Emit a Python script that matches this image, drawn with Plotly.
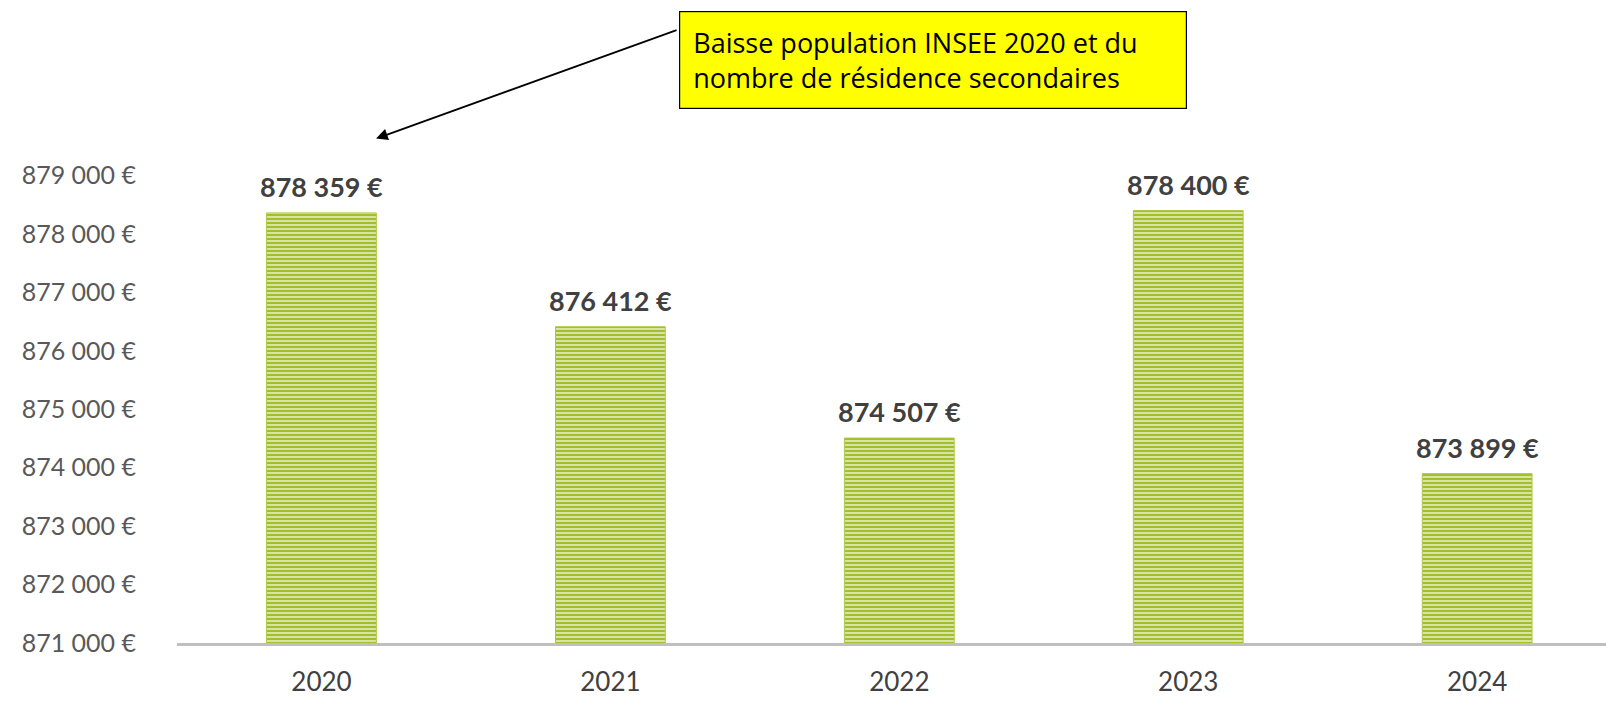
import plotly.graph_objects as go

years = ["2020", "2021", "2022", "2023", "2024"]
values = [878359, 876412, 874507, 878400, 873899]
value_labels = ["878 359 €", "876 412 €", "874 507 €", "878 400 €", "873 899 €"]
y_ticks = [871000, 872000, 873000, 874000, 875000, 876000, 877000, 878000, 879000]
y_tick_labels = ["871 000 €", "872 000 €", "873 000 €", "874 000 €", "875 000 €",
                 "876 000 €", "877 000 €", "878 000 €", "879 000 €"]
note_text = "Baisse population INSEE 2020 et du<br>nombre de résidence secondaires"

fig = go.Figure()
fig.add_trace(go.Bar(
    x=years, y=values,
    marker=dict(
        color="#EEF3D2",
        line=dict(color="#B0C843", width=1),
        pattern=dict(shape="-", fgcolor="#A2BE2B", bgcolor="#F0F5D6",
                     size=4, solidity=0.65, fillmode="replace"),
    ),
    hoverinfo="skip",
))

for i, (v, lab) in enumerate(zip(values, value_labels)):
    fig.add_annotation(x=i, y=v, text="<b>" + lab + "</b>", showarrow=False,
                       xanchor="center", yanchor="bottom", yshift=8,
                       font=dict(family="Lato", size=27, color="#404040"),
                       xref="x", yref="y")

# callout box
fig.add_annotation(xref="paper", yref="paper", x=0.529, y=1.108,
                   xanchor="center", yanchor="middle",
                   text=note_text, showarrow=False, align="left",
                   width=480, height=70, borderpad=13, borderwidth=1.2,
                   bordercolor="#000000", bgcolor="#FFFF00",
                   font=dict(family="Open Sans", size=27, color="#000000"))
# arrow
fig.add_annotation(xref="paper", yref="paper", x=0.1393, y=0.959, text="",
                   showarrow=True, ax=302, ay=-109, arrowhead=2, arrowsize=1.3,
                   arrowwidth=1.8, arrowcolor="#000000", standoff=0)

fig.update_layout(
    width=1606, height=701,
    margin=dict(l=177, r=0, t=117, b=58),
    paper_bgcolor="white", plot_bgcolor="white",
    showlegend=False, bargap=0.62,
    font=dict(family="Lato", color="#595959"),
)
fig.update_xaxes(type="category", range=[-0.5, 4.446], showgrid=False, showline=True,
                 linecolor="#BFBFBF", linewidth=3, ticks="",
                 tickfont=dict(size=26, color="#404040"), ticklabelstandoff=14)
fig.update_yaxes(range=[871000, 880000], showgrid=False, showline=False,
                 zeroline=False, tickvals=y_ticks, ticktext=y_tick_labels,
                 tickfont=dict(size=25, color="#595959"), ticklabelstandoff=40)

fig.write_html("out.html", config={"displayModeBar": False},
               post_script="document.body.style.margin='0';")
